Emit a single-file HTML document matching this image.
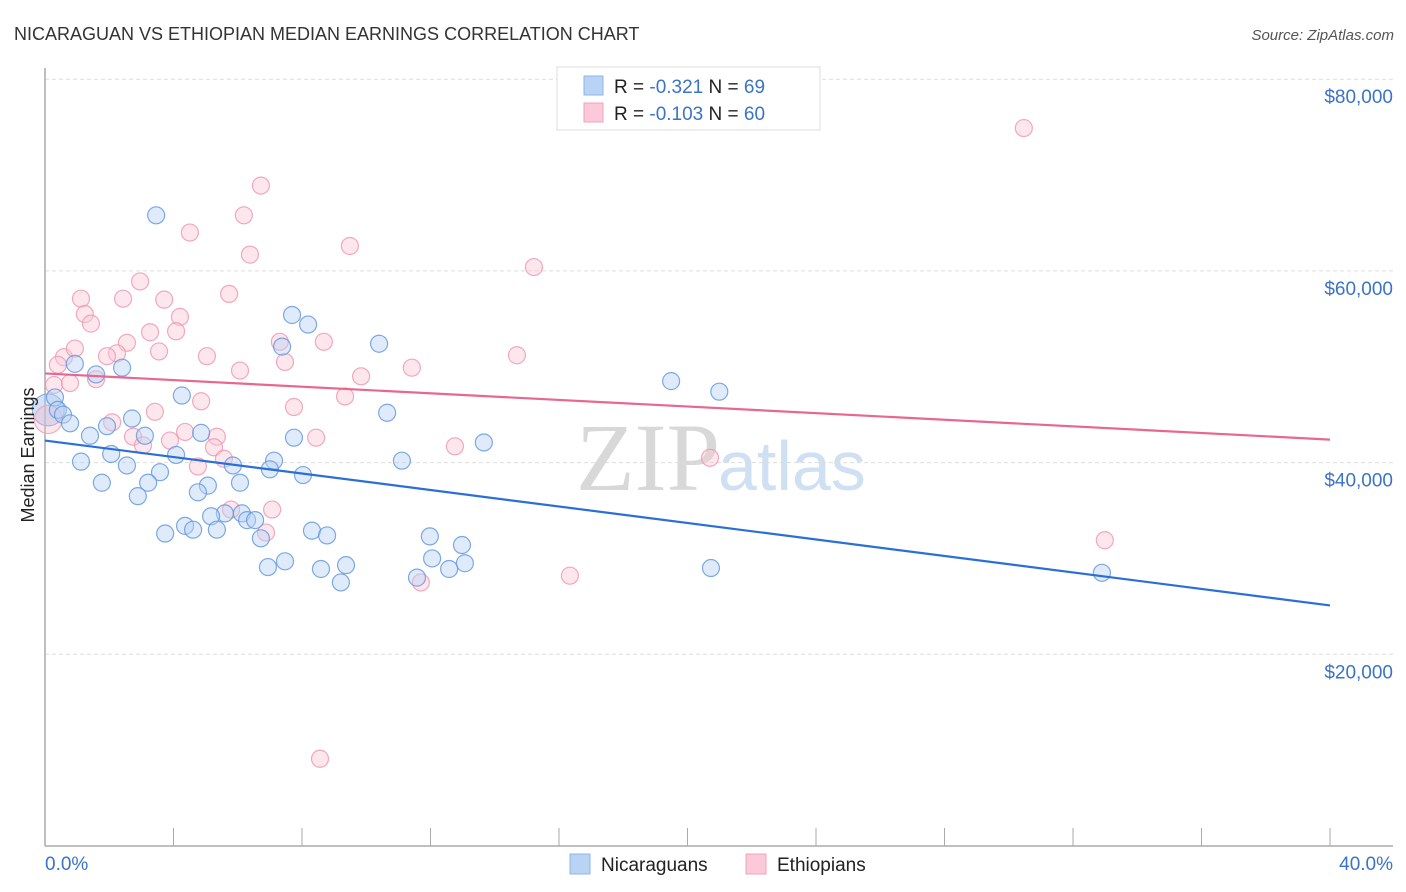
<!DOCTYPE html>
<html><head><meta charset="utf-8"><style>
body{margin:0;background:#fff;font-family:"Liberation Sans",sans-serif;}
svg{display:block}
</style></head><body>
<svg id="chart" width="1406" height="892">
<text x="14" y="40" font-size="18" fill="#333">NICARAGUAN VS ETHIOPIAN MEDIAN EARNINGS CORRELATION CHART</text>
<text x="1394" y="40" font-size="15" fill="#555" font-style="italic" text-anchor="end">Source: ZipAtlas.com</text>
<text x="720" y="490" font-size="96" fill="#d8d8d8" text-anchor="end" font-family="Liberation Serif,serif">ZIP</text>
<text x="718" y="490" font-size="70" fill="#cfe0f3">atlas</text>
<g id="grid"></g>
<g id="axes"></g>
<g id="marks"></g>
<text transform="translate(34,455) rotate(-90)" font-size="18" fill="#222" text-anchor="middle">Median Earnings</text>
<g>
<rect x="557" y="67" width="263" height="63" fill="#fff" stroke="#ddd"/>
<rect x="584" y="76" width="19" height="19" fill="#b9d3f5" stroke="#8db4e8"/>
<rect x="584" y="103" width="19" height="19" fill="#fbc9d8" stroke="#f0a3bb"/>
<text x="614" y="93" font-size="19" fill="#222">R = <tspan fill="#3b73c8">-0.321</tspan>   N = <tspan fill="#3b73c8">69</tspan></text>
<text x="614" y="120" font-size="19" fill="#222">R = <tspan fill="#3b73c8">-0.103</tspan>   N = <tspan fill="#3b73c8">60</tspan></text>
</g>
<g>
<rect x="570" y="854" width="20" height="20" fill="#b9d3f5" stroke="#8db4e8"/>
<text x="601" y="871" font-size="19" fill="#222">Nicaraguans</text>
<rect x="746" y="854" width="20" height="20" fill="#fbc9d8" stroke="#f0a3bb"/>
<text x="777" y="871" font-size="19" fill="#222">Ethiopians</text>
</g>
</svg>
<script>
const yTicks=[20000,40000,60000,80000];
const yTickLabels=["$20,000","$40,000","$60,000","$80,000"];
const xTicks=[0,4,8,12,16,20,24,28,32,36,40];
const blueX=[3.46,7.69,8.19,10.40,7.38,0.93,2.40,1.59,19.49,20.99,4.26,0.31,10.65,0.40,0.56,0.78,2.71,1.93,3.11,1.40,4.86,7.75,13.66,2.06,4.08,1.12,11.11,7.13,5.85,2.55,3.58,7.00,8.03,1.77,3.21,6.07,5.07,2.89,4.76,5.60,5.17,6.13,6.29,6.54,4.36,4.61,5.35,3.74,8.31,8.78,11.98,6.72,12.98,7.47,20.73,12.05,13.07,9.37,6.94,8.59,12.58,11.58,9.21,32.90];
const blueY=[65.8,55.4,54.4,52.4,52.1,50.3,49.9,49.2,48.5,47.4,47.0,46.8,45.2,45.5,45.0,44.1,44.6,43.8,42.8,42.8,43.1,42.6,42.1,40.9,40.8,40.1,40.2,40.2,39.7,39.7,39.0,39.3,38.7,37.9,37.9,37.9,37.6,36.5,36.9,34.7,34.4,34.7,34.0,34.0,33.4,33.0,33.0,32.6,32.9,32.4,32.3,32.1,31.4,29.7,29.0,30.0,29.5,29.3,29.1,28.9,28.9,28.0,27.5,28.5];
const pinkX=[30.47,6.72,6.19,4.51,9.49,6.38,15.22,2.96,1.12,2.43,3.71,5.73,1.24,4.20,1.43,3.27,4.08,2.55,8.68,7.31,3.55,2.24,14.69,0.59,0.93,5.04,1.93,0.40,7.47,6.07,11.42,1.59,0.28,0.78,9.84,9.34,7.75,4.86,3.42,2.09,3.89,8.44,4.36,5.35,2.74,3.05,5.26,12.76,4.76,5.57,20.70,5.79,7.07,6.88,32.99,16.34,11.70,8.56];
const pinkY=[74.9,68.9,65.8,64.0,62.6,61.7,60.4,58.9,57.1,57.1,57.0,57.6,55.5,55.2,54.5,53.6,53.7,52.5,52.6,52.6,51.6,51.4,51.2,51.0,51.9,51.1,51.1,50.2,50.5,49.6,49.9,48.7,48.1,48.3,49.0,46.9,45.8,46.4,45.3,44.2,42.3,42.6,43.2,42.7,42.7,41.8,41.6,41.7,39.6,40.4,40.5,35.1,35.1,32.7,31.9,28.2,27.5,9.1];
const blueTrend=[42.3,25.1];
const pinkTrend=[49.3,42.4];
const NS="http://www.w3.org/2000/svg";
const X=v=>45+v/40*1285;
const Y=v=>846-v/20000*191.7;
function mk(tag,attrs,parent){const e=document.createElementNS(NS,tag);for(const k in attrs)e.setAttribute(k,attrs[k]);parent.appendChild(e);return e;}
const grid=document.getElementById('grid'),axes=document.getElementById('axes'),marks=document.getElementById('marks');
yTicks.forEach((t,i)=>{
 const l=mk('line',{x1:45,x2:1393,y1:Y(t),y2:Y(t),stroke:'#ddd','stroke-dasharray':'4,3'},grid);
 
 
 const tx=mk('text',{x:1393,y:Y(t)+24,'font-size':19,fill:'#3b73c8','text-anchor':'end'},axes);
 tx.textContent=yTickLabels[i];
 
 
});
const ax=mk('line',{x1:45,x2:1393,y1:846,y2:846,stroke:'#aaa','stroke-width':1.5},axes);


const ay=mk('line',{x1:45,x2:45,y1:68,y2:846,stroke:'#aaa','stroke-width':1.5},axes);


xTicks.forEach(t=>{
 const l=mk('line',{x1:X(t),x2:X(t),y1:828,y2:846,stroke:'#aaa'},axes);
 
 
});
const x0=mk('text',{x:45,y:870,'font-size':19,fill:'#3b73c8'},axes);x0.textContent=xTicks[0].toFixed(1)+'%';


const x1=mk('text',{x:1393,y:870,'font-size':19,fill:'#3b73c8','text-anchor':'end'},axes);x1.textContent=xTicks[xTicks.length-1].toFixed(1)+'%';


function pts(xs,ys,fill,stroke,name){
 xs.forEach((x,i)=>{
  const c=mk('circle',{cx:X(x),cy:Y(ys[i]*1000),r:8.5,fill:fill,'fill-opacity':0.45,stroke:stroke,'stroke-opacity':0.8,'stroke-width':1.2},marks);
  
  
 });
}
const bb=mk('circle',{cx:X(0.1),cy:Y(45500),r:16,fill:'#a8c6ef','fill-opacity':0.5,stroke:'#7aa5e0'},marks);


const pb=mk('circle',{cx:X(0.1),cy:Y(44500),r:14,fill:'#f6b8cb','fill-opacity':0.35,stroke:'#f0a3bb'},marks);


pts(pinkX,pinkY,'#fbc9d8','#ee95b0','ethiopian-point');
pts(blueX,blueY,'#b9d3f5','#5f95dc','nicaraguan-point');
const tb=mk('line',{x1:X(0),x2:X(40),y1:Y(blueTrend[0]*1000),y2:Y(blueTrend[1]*1000),stroke:'#2a6fd6','stroke-width':2.2},marks);


const tp=mk('line',{x1:X(0),x2:X(40),y1:Y(pinkTrend[0]*1000),y2:Y(pinkTrend[1]*1000),stroke:'#e8678f','stroke-width':2.2},marks);


</script>
</body></html>
